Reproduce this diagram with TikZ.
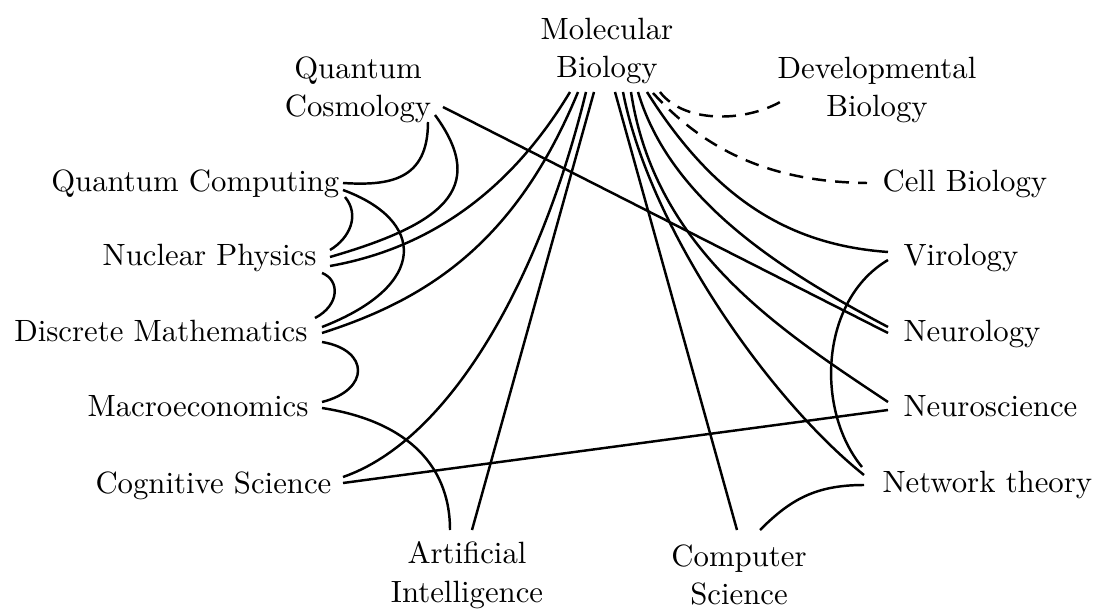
\documentclass[tikz,border=0pt]{standalone}
\usetikzlibrary{calc}
\begin{document}
\begin{tikzpicture}[x=0.325pt,y=-0.325pt,
  lbl/.style={inner sep=0pt,font=\fontsize{10}{12.5}\selectfont},
  edge/.style={line width=0.8pt},
  dedge/.style={edge,dash pattern=on 4.5pt off 3pt}]
\useasboundingbox (0,0) rectangle (1094,611);
% nodes
\node[lbl,align=center] (mb) at (607,51) {Molecular\\Biology};
\node[lbl,align=center] (qcos) at (358,90) {Quantum\\Cosmology};
\node[lbl,align=center] (dev) at (877,90) {Developmental\\Biology};
\node[lbl,anchor=base east] (qcomp) at (340,192) {Quantum Computing};
\node[lbl,anchor=base east] (np) at (317,266) {Nuclear Physics};
\node[lbl,anchor=base east] (dm) at (308,342) {Discrete Mathematics};
\node[lbl,anchor=base east] (macro) at (309,417) {Macroeconomics};
\node[lbl,anchor=base east] (cog) at (332,493) {Cognitive Science};
\node[lbl,anchor=base west] (cell) at (882,192) {Cell Biology};
\node[lbl,anchor=base west] (vir) at (903,266) {Virology};
\node[lbl,anchor=base west] (neurol) at (903,342) {Neurology};
\node[lbl,anchor=base west] (neurosci) at (903,417) {Neuroscience};
\node[lbl,anchor=base west] (net) at (882,492) {Network theory};
\node[lbl,align=center] (ai) at (467,575) {Artificial\\Intelligence};
\node[lbl,align=center] (cs) at (739,575) {Computer\\Science};
% edges from Molecular Biology
\draw[edge] ($(mb.center)+(-37,41)$) .. controls +(-65,108) and +(90,-16) .. ($(np.base east)+(13,0)$);
\draw[edge] ($(mb.center)+(-29,41)$) .. controls +(-63,153) and +(103,-33) .. ($(dm.base east)+(14,-9)$);
\draw[edge] ($(mb.center)+(-21,41)$) .. controls +(-46,188) and +(107,-37) .. ($(cog.base east)+(11,-16)$);
\draw[edge] ($(mb.center)+(-13,41)$) -- ($(ai.center)+(5,-45)$);
\draw[edge] ($(mb.center)+(8,41)$) -- ($(cs.center)+(-2,-45)$);
\draw[edge] ($(mb.center)+(16,41)$) .. controls +(27,138) and +(-94,-75) .. ($(net.base west)+(-18,-17)$);
\draw[edge] ($(mb.center)+(24,41)$) .. controls +(24,158) and +(-108,-72) .. ($(neurosci.base west)+(-15,-15)$);
\draw[edge] ($(mb.center)+(31,41)$) .. controls +(32,108) and +(-108,-57) .. ($(neurol.base west)+(-15,-15)$);
\draw[edge] ($(mb.center)+(40,41)$) .. controls +(68,108) and +(-98,-7) .. ($(vir.base west)+(-15,-14)$);
\draw[dedge] ($(mb.center)+(46,42)$) .. controls +(52,57) and +(-97,-1) .. ($(cell.base west)+(-15,-9)$);
\draw[dedge] ($(mb.center)+(53,41)$) .. controls +(25,33) and +(-35,23) .. ($(dev.center)+(-92,9)$);
% edges from Quantum Cosmology
\draw[edge] ($(qcos.center)+(85,17)$) -- ($(neurol.base west)+(-15,-9)$);
\draw[edge] ($(qcos.center)+(77,25)$) .. controls +(55,75) and +(110,-32) .. ($(np.base east)+(13,-9)$);
\draw[edge] ($(qcos.center)+(70,32)$) .. controls +(0,58) and +(47,3) .. ($(qcomp.base east)+(3,-9)$);
% other edges
\draw[edge] ($(qcomp.base east)+(3,-2)$) .. controls +(82,30) and +(108,-42) .. ($(dm.base east)+(14,-15)$);
\draw[edge] ($(qcomp.base east)+(5,5)$) .. controls +(15,18) and +(20,-12) .. ($(np.base east)+(13,-16)$);
\draw[edge] ($(np.base east)+(5,7)$) .. controls +(18,7) and +(25,-13) .. ($(dm.base east)+(7,-24)$);
\draw[edge] ($(dm.base east)+(14,0)$) .. controls +(48,8) and +(48,-12) .. ($(macro.base east)+(13,-15)$);
\draw[edge] ($(macro.base east)+(13,-9)$) .. controls +(78,12) and +(0,-70) .. ($(ai.center)+(-17,-45)$);
\draw[edge] ($(cog.base east)+(11,-10)$) -- ($(neurosci.base west)+(-15,-7)$);
\draw[edge] ($(vir.base west)+(-15,-6)$) .. controls +(-68,40) and +(-47,-57) .. ($(net.base west)+(-20,-25)$);
\draw[edge] ($(net.base west)+(-18,-7)$) .. controls +(-49,0) and +(30,-30) .. ($(cs.center)+(21,-45)$);
\end{tikzpicture}
\end{document}
